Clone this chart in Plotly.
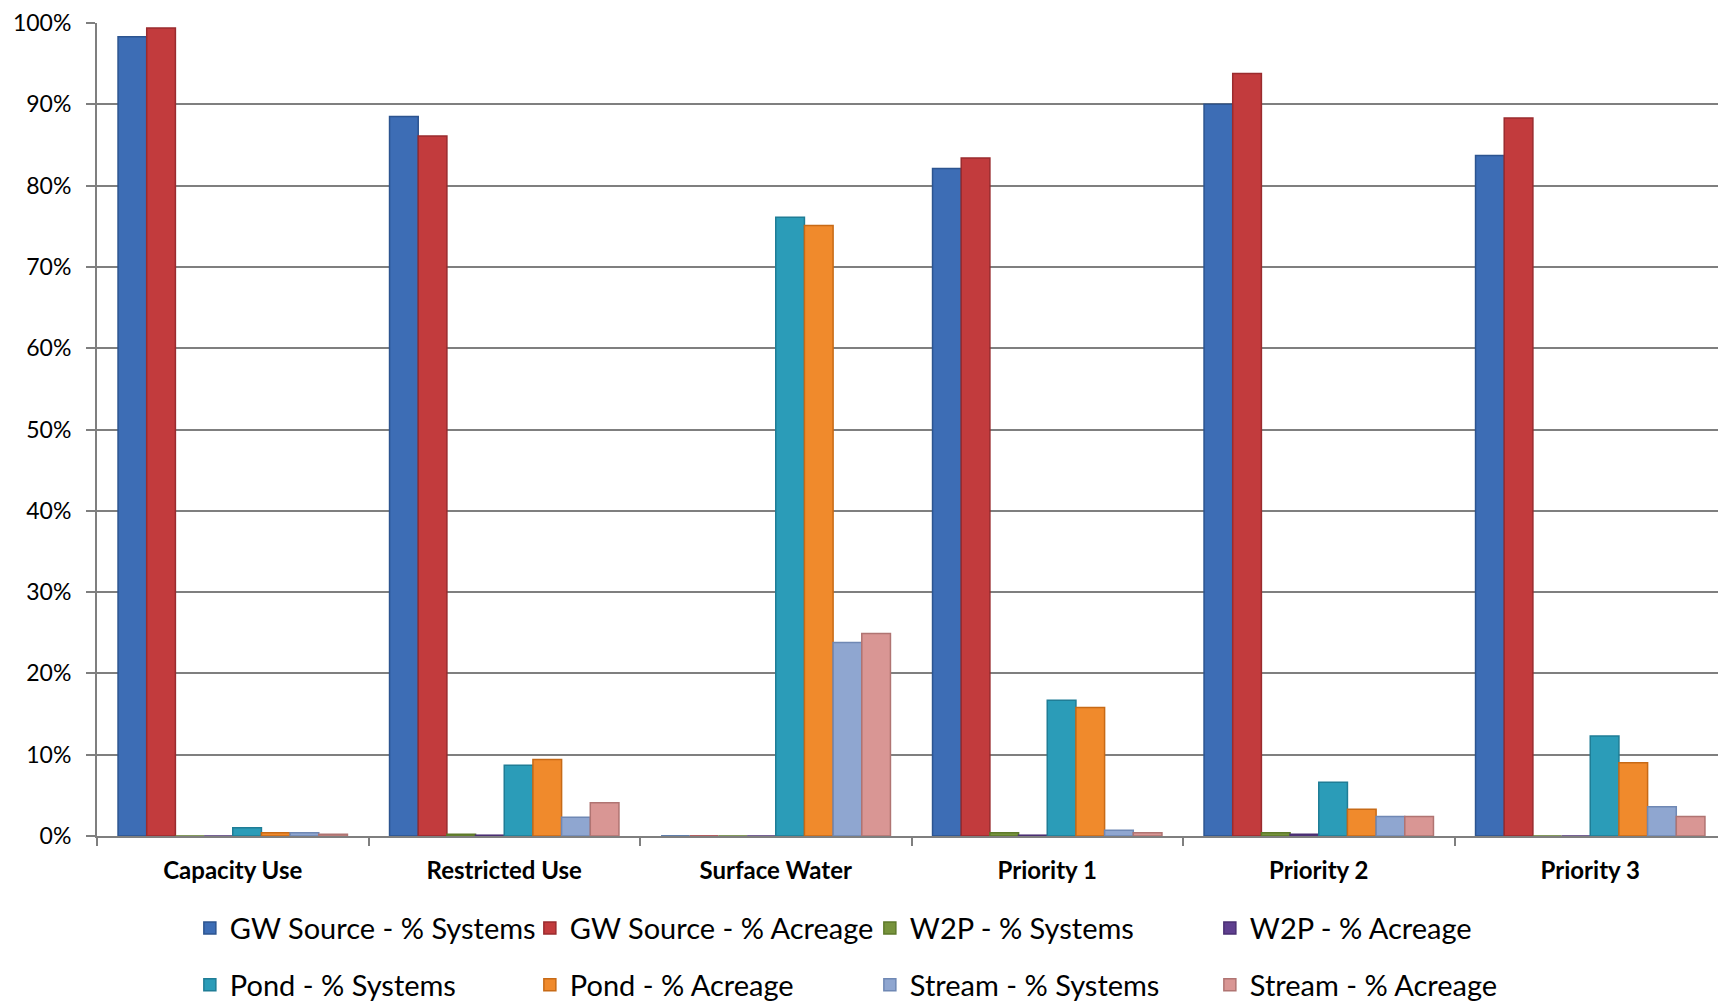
import plotly.graph_objects as go

categories = ["Capacity Use", "Restricted Use", "Surface Water", "Priority 1", "Priority 2", "Priority 3"]

gw_systems = [0.983, 0.885, 0.0, 0.821, 0.900, 0.837]
gw_acreage = [0.994, 0.861, 0.0, 0.834, 0.938, 0.883]
w2p_systems = [0.0, 0.002, 0.0, 0.004, 0.004, 0.0]
w2p_acreage = [0.0, 0.001, 0.0, 0.001, 0.002, 0.0]
pond_systems = [0.010, 0.087, 0.761, 0.167, 0.066, 0.123]
pond_acreage = [0.004, 0.094, 0.751, 0.158, 0.033, 0.090]
stream_systems = [0.004, 0.023, 0.238, 0.007, 0.024, 0.036]
stream_acreage = [0.002, 0.041, 0.249, 0.004, 0.024, 0.024]

series_names = [
    "GW Source - % Systems", "GW Source - % Acreage", "W2P - % Systems", "W2P - % Acreage",
    "Pond - % Systems", "Pond - % Acreage", "Stream - % Systems", "Stream - % Acreage",
]
series_values = [gw_systems, gw_acreage, w2p_systems, w2p_acreage,
                 pond_systems, pond_acreage, stream_systems, stream_acreage]
fill_colors = ["#3D6DB5", "#C23B3D", "#77933C", "#5F3F8F",
               "#2B9CB8", "#F08A2C", "#8FA6D0", "#D99694"]
line_colors = ["#2C5490", "#9A2B2E", "#5E7A2A", "#4A2F73",
               "#1F7D96", "#C76A16", "#6F88B4", "#B07472"]

y_ticks = [i / 10 for i in range(11)]
y_labels = [f"{i*10}%" for i in range(11)]

FONT = "Lato, Noto Sans, sans-serif"

fig = go.Figure()
for i, (name, vals, fc, lc) in enumerate(zip(series_names, series_values, fill_colors, line_colors)):
    fig.add_trace(go.Bar(
        x=categories, y=vals, name=name,
        marker=dict(color=fc, line=dict(color=lc, width=1.5)),
        legend="legend" if i < 4 else "legend2",
    ))

legend_common = dict(
    orientation="h", xanchor="left", yanchor="middle",
    font=dict(family=FONT, size=29, color="black"),
    entrywidth=295, entrywidthmode="pixels",
    traceorder="normal", bgcolor="rgba(0,0,0,0)",
)

fig.update_layout(
    width=1718, height=995,
    margin=dict(l=89, r=0, t=15, b=167, autoexpand=False),
    paper_bgcolor="white", plot_bgcolor="white",
    barmode="group", bargap=0.155, bargroupgap=0,
    font=dict(family=FONT, color="black"),
    showlegend=True,
    legend=dict(x=0.057, y=-0.1132, **legend_common),
    legend2=dict(x=0.057, y=-0.1833, **legend_common),
)
fig.update_xaxes(
    type="category", tickson="boundaries", ticks="outside", ticklen=8, tickwidth=2,
    tickcolor="#7F7F7F", showline=True, linecolor="#7F7F7F", linewidth=2,
    tickfont=dict(family=FONT, size=24, color="black", weight="bold"),
    ticklabelstandoff=12, automargin=False,
    showgrid=False,
)
fig.update_yaxes(
    range=[0, 1], tickvals=y_ticks, ticktext=y_labels, ticks="outside", ticklen=9, tickwidth=2,
    tickcolor="#7F7F7F", showline=True, linecolor="#7F7F7F", linewidth=2,
    showgrid=True, gridcolor="#7F7F7F", gridwidth=1.5,
    tickfont=dict(family=FONT, size=23, color="black"),
    ticklabelstandoff=10, automargin=False, ticklabeloverflow="allow",
    zeroline=False,
)

fig.write_html("out.html")
